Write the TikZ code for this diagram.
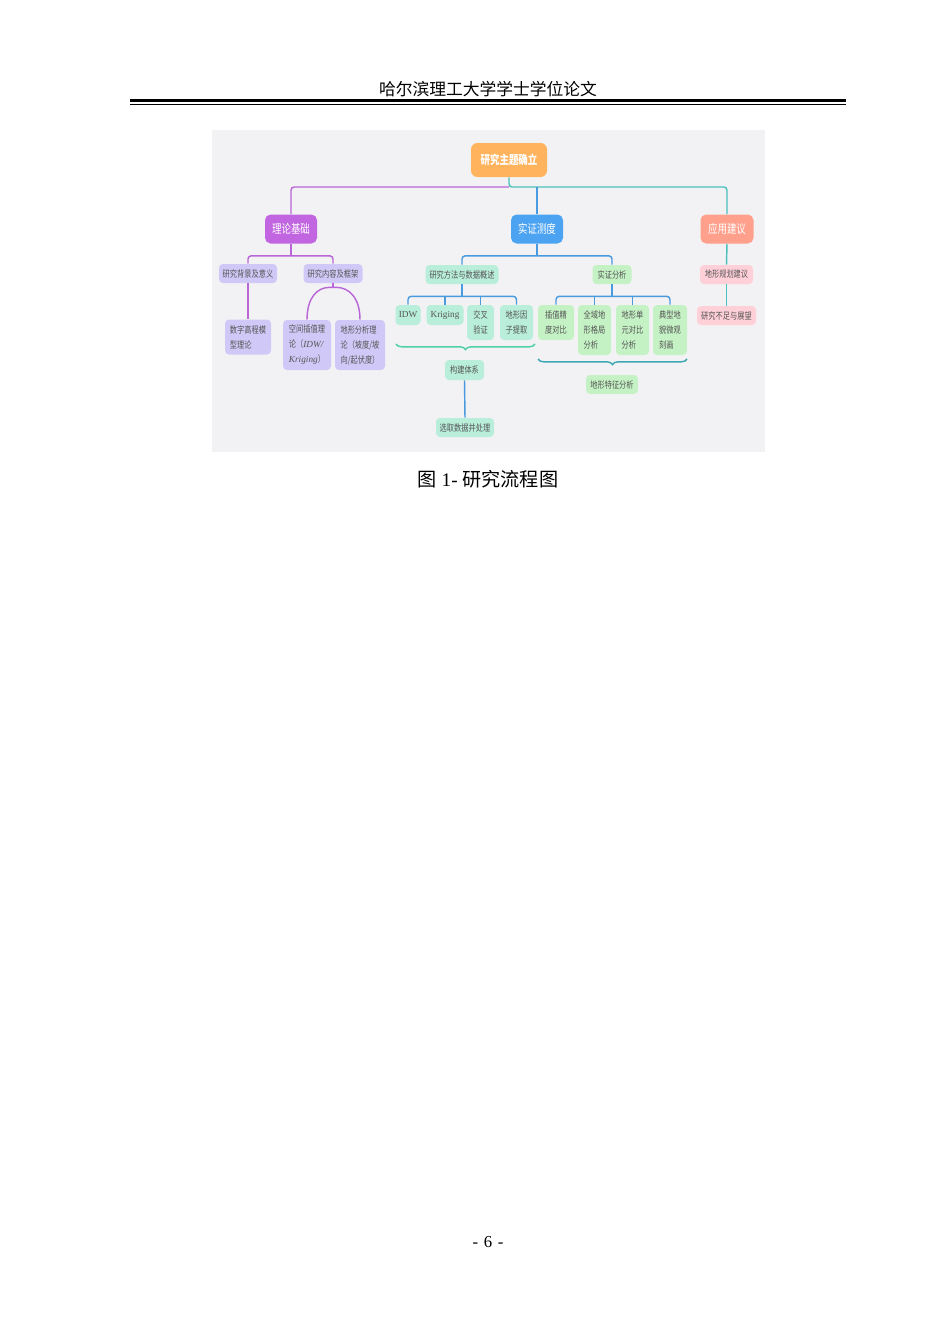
\documentclass[tikz,border=0pt]{standalone}
\usepackage{fontspec}
\setmainfont{Liberation Serif}
\newfontfamily\cjk{Noto Sans CJK SC}
\newfontfamily\cjkn[FakeStretch=0.78]{Noto Sans CJK SC}
\usetikzlibrary{decorations.pathreplacing,calc}

\definecolor{bgGray}{HTML}{F2F2F4}
\definecolor{rootOr}{HTML}{FFB35C}
\definecolor{thP}{HTML}{C166E0}
\definecolor{emB}{HTML}{4BA3F2}
\definecolor{apS}{HTML}{FFA08C}
\definecolor{lnP}{HTML}{B866D8}
\definecolor{lnB}{HTML}{4A9AE0}
\definecolor{lnT}{HTML}{4CC0BE}
\definecolor{lavL}{HTML}{D0C9F7}
\definecolor{mintL}{HTML}{B9EEDB}
\definecolor{greenL}{HTML}{C5F2C5}
\definecolor{pinkL}{HTML}{FFD0D8}
\definecolor{brG}{HTML}{4FD1A5}
\definecolor{brT}{HTML}{3FA8B5}
\definecolor{leafTxt}{HTML}{555555}

\tikzset{
  sz/.style 2 args={minimum width=#1*0.6265pt, minimum height=#2*0.6265pt},
  topbox/.style={fill=rootOr, rounded corners=4pt, text=white, inner sep=0pt,
    font=\cjkn\bfseries\fontsize{7.6}{9}\selectfont},
  headbox/.style={rounded corners=3.5pt, text=white, inner sep=0pt,
    font=\cjkn\fontsize{7.6}{9}\selectfont},
  leaf/.style={rounded corners=2.5pt, text=leafTxt, inner sep=0pt, align=left,
    font=\cjkn\fontsize{5.8}{9.4}\selectfont},
  linkP/.style={draw=lnP, line width=0.9pt, rounded corners=2pt},
  linkB/.style={draw=lnB, line width=0.9pt, rounded corners=2pt},
  linkT/.style={draw=lnT, line width=0.9pt, rounded corners=2pt},
  bracebar/.style={line width=0.9pt, decorate, decoration={brace, mirror, amplitude=3.5pt}}
}

\begin{document}
\begin{tikzpicture}[x=0.6265pt,y=-0.6265pt]
  \fill[white] (0,0) rectangle (950,1342);
  \useasboundingbox (0,0) rectangle (950,1342);

  % page head
  \node[font=\cjk\fontsize{10.5}{12}\selectfont] (head) at (488,89) {哈尔滨理工大学学士学位论文};
  \draw[line width=1.9pt] (130,100.5) -- (846,100.5);
  \draw[line width=0.6pt] (130,104.5) -- (846,104.5);

  % figure background
  \fill[bgGray] (212,130) rectangle (765,452);

  % top levels
  \node[topbox, sz={76}{34}] (root) at (509,160) {研究主题确立};
  \node[headbox, fill=thP, sz={52}{29}] (theory) at (291,229) {理论基础};
  \node[headbox, fill=emB, sz={52}{29}] (emp) at (537,229) {实证测度};
  \node[headbox, fill=apS, sz={53}{29}] (app) at (727,229) {应用建议};

  % theory branch
  \node[leaf, fill=lavL, sz={58}{19}] (bg) at (248,273.5) {研究背景及意义};
  \node[leaf, fill=lavL, sz={59}{19}] (frame) at (333,273.5) {研究内容及框架};
  \node[leaf, fill=lavL, sz={46}{35}] (dem) at (248,337) {数字高程模\\型理论};
  \node[leaf, fill=lavL, sz={48}{50}] (sp) at (307,345) {空间插值理\\论（{\rmfamily\itshape IDW/}\\{\rmfamily\itshape Kriging}）};
  \node[leaf, fill=lavL, sz={50}{50}] (ta) at (360,345) {地形分析理\\论（坡度/坡\\向/起伏度）};

  % empirical branch
  \node[leaf, fill=mintL, sz={73}{19}] (method) at (462,274.5) {研究方法与数据概述};
  \node[leaf, fill=greenL, sz={39}{19}] (ana) at (612,274.5) {实证分析};
  \node[leaf, fill=mintL, sz={25}{20}] (idw) at (408,315) {{\rmfamily IDW}};
  \node[leaf, fill=mintL, sz={37}{20}] (krig) at (445,315) {{\rmfamily Kriging}};
  \node[leaf, fill=mintL, sz={27}{35}] (cv) at (480.5,322.5) {交叉\\验证};
  \node[leaf, fill=mintL, sz={33}{35}] (fac) at (516.5,322.5) {地形因\\子提取};
  \node[leaf, fill=mintL, sz={39}{20}] (bld) at (464.5,370) {构建体系};
  \node[leaf, fill=mintL, sz={58}{19}] (sel) at (465,427.5) {选取数据并处理};
  \node[leaf, fill=greenL, sz={36}{35}] (acc) at (556,322.5) {插值精\\度对比};
  \node[leaf, fill=greenL, sz={33}{50}] (glob) at (594.5,330) {全域地\\形格局\\分析};
  \node[leaf, fill=greenL, sz={33}{50}] (unit) at (632.5,330) {地形单\\元对比\\分析};
  \node[leaf, fill=greenL, sz={34}{50}] (micro) at (670,330) {典型地\\貌微观\\刻画};
  \node[leaf, fill=greenL, sz={52}{19}] (feat) at (612,384.5) {地形特征分析};

  % application branch
  \node[leaf, fill=pinkL, sz={53}{19}] (plan) at (726.5,274.5) {地形规划建议};
  \node[leaf, fill=pinkL, sz={59}{19}] (lack) at (726.5,315.5) {研究不足与展望};

  % links, level 1
  \coordinate (hub) at (509,187);
  \draw[linkT] (root.south) -- (hub) -| (app.north);
  \draw[linkP] (hub) -| (theory.north);
  \draw[linkB] (emp.north |- hub) -- (emp.north);

  % links, theory
  \draw[linkP] (theory.south) -- ++(0,12) coordinate (tb);
  \draw[linkP] (bg.north) |- (tb) -| (frame.north);
  \draw[linkP] (bg.south) -- (dem.north);
  \draw[linkP] (frame.south) -- ++(0,4) coordinate (fa);
  \draw[linkP] (sp.north) .. controls +(0,-22) and +(-16,0) .. (fa)
    .. controls +(16,0) and +(0,-22) .. (ta.north);

  % links, empirical
  \draw[linkB] (emp.south) -- ++(0,12) coordinate (eb);
  \draw[linkB] (method.north) |- (eb) -| (ana.north);
  \draw[linkB] (method.south) -- ++(0,12) coordinate (mb);
  \draw[linkB] (idw.north) |- (mb) -| (fac.north);
  \foreach \n in {krig,cv} \draw[linkB] (\n.north) -- (\n.north |- mb);
  \draw[linkB] (ana.south) -- ++(0,12) coordinate (ab);
  \draw[linkB] (acc.north) |- (ab) -| (micro.north);
  \foreach \n in {glob,unit} \draw[linkB] (\n.north) -- (\n.north |- ab);
  \draw[linkB] (bld.south) -- (sel.north);

  % braces
  \coordinate (b1l) at (396,344);
  \coordinate (b1r) at (535,344);
  \coordinate (b2l) at (538,359);
  \coordinate (b2r) at (687,359);
  \draw[bracebar, brG] (b1l) -- (b1r);
  \draw[bracebar, brT] (b2l) -- (b2r);

  % links, application
  \draw[linkT] (app.south) -- (plan.north);
  \draw[linkT] (plan.south) -- (lack.north);

  % caption and page number
  \node[font=\fontsize{12}{14}\selectfont] (cap) at (488,479) {{\cjk 图} 1- {\cjk 研究流程图}};
  \node[font=\fontsize{10.5}{12}\selectfont] (pnum) at (488,1242) {-\,\,6\,\,-};
\end{tikzpicture}
\end{document}
